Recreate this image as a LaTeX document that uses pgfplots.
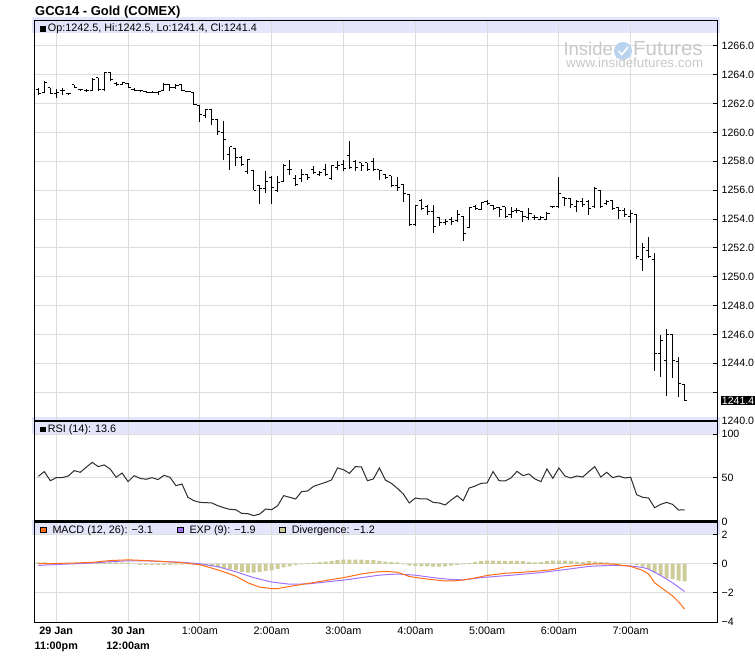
\documentclass[border=0pt]{standalone}
\usepackage{fontspec}
\setmainfont{Liberation Sans}
\usepackage{pgfplots}
\usepackage{pgfplotstable}
\pgfplotsset{compat=1.18}

\definecolor{gridcol}{RGB}{221,221,221}
\definecolor{bandcol}{RGB}{228,228,250}
\definecolor{macdcol}{RGB}{255,110,20}
\definecolor{expcol}{RGB}{160,115,255}
\definecolor{divcol}{RGB}{204,204,153}
\definecolor{rsicol}{RGB}{45,45,45}
\definecolor{wmgray}{RGB}{200,200,200}
\definecolor{globecol}{RGB}{185,212,238}

\pgfdeclareplotmark{otick}{\pgfpathmoveto{\pgfqpoint{-2.6pt}{0pt}}\pgfpathlineto{\pgfqpoint{0pt}{0pt}}\pgfusepathqstroke}
\pgfdeclareplotmark{ctick}{\pgfpathmoveto{\pgfqpoint{0pt}{0pt}}\pgfpathlineto{\pgfqpoint{2.6pt}{0pt}}\pgfusepathqstroke}

\newcommand\txt{\fontsize{10.8}{14.3}\selectfont}
\newcommand\tck{\fontsize{10.6}{12}\selectfont}

\pgfplotstableread{
i O H L C
0 1263.0 1263.05 1262.6 1262.7
1 1262.75 1263.6 1262.75 1263.5
2 1263.1 1263.1 1262.65 1262.7
3 1262.7 1263.0 1262.4 1262.8
4 1262.9 1263.05 1262.6 1262.9
5 1262.7 1262.75 1262.6 1262.7
6 1263.3 1263.3 1263.05 1263.1
7 1262.95 1263.0 1262.9 1262.95
8 1262.9 1263.0 1262.8 1262.9
9 1262.9 1263.8 1262.9 1263.7
10 1263.8 1263.8 1262.9 1262.95
11 1262.95 1264.2 1262.9 1264.15
12 1264.15 1264.2 1263.6 1263.7
13 1263.4 1263.5 1263.25 1263.35
14 1263.35 1263.5 1263.3 1263.45
15 1263.4 1263.4 1263.05 1263.1
16 1263.0 1263.05 1262.85 1262.9
17 1262.9 1262.95 1262.85 1262.9
18 1262.85 1262.9 1262.8 1262.8
19 1262.8 1262.85 1262.75 1262.8
20 1262.8 1262.9 1262.6 1262.85
21 1262.9 1263.4 1262.9 1263.3
22 1263.3 1263.3 1262.9 1263.1
23 1263.1 1263.35 1263.0 1263.25
24 1263.35 1263.35 1262.85 1262.9
25 1262.85 1262.9 1262.8 1262.85
26 1262.8 1262.8 1261.9 1261.95
27 1261.9 1261.9 1260.7 1261.25
28 1261.2 1261.65 1261.0 1261.6
29 1261.6 1261.65 1260.55 1260.9
30 1260.9 1260.9 1259.8 1260.05
31 1260.0 1260.8 1258.1 1259.5
32 1258.5 1259.0 1257.4 1259.0
33 1258.9 1258.9 1257.7 1258.3
34 1258.3 1258.35 1257.7 1257.8
35 1257.3 1258.15 1257.1 1258.1
36 1257.35 1257.4 1256.0 1256.0
37 1256.3 1256.35 1255.07 1256.1
38 1256.1 1257.3 1255.8 1256.6
39 1256.9 1257.0 1255.05 1256.2
40 1256.0 1256.95 1255.9 1256.55
41 1256.6 1257.8 1256.6 1257.7
42 1257.4 1258.1 1257.05 1257.4
43 1256.8 1257.05 1256.3 1256.4
44 1256.8 1257.5 1256.6 1257.1
45 1257.1 1257.15 1256.7 1256.9
46 1257.4 1257.7 1257.1 1257.2
47 1257.1 1257.3 1257.0 1257.25
48 1257.4 1257.8 1257.0 1257.1
49 1256.8 1257.75 1256.7 1257.7
50 1257.6 1258.05 1257.4 1257.7
51 1257.8 1258.1 1257.35 1257.5
52 1258.4 1259.4 1257.5 1257.6
53 1258.0 1258.1 1257.35 1257.6
54 1257.9 1257.9 1257.35 1257.7
55 1257.9 1257.9 1257.35 1257.4
56 1258.0 1258.2 1257.35 1257.4
57 1257.4 1257.4 1256.7 1257.35
58 1257.1 1257.1 1256.8 1256.9
59 1257.0 1257.0 1256.2 1256.3
60 1256.3 1256.9 1255.95 1256.2
61 1256.4 1256.45 1255.2 1255.8
62 1255.7 1255.75 1253.5 1253.6
63 1253.6 1255.0 1253.5 1254.95
64 1255.3 1255.4 1254.6 1254.75
65 1254.9 1254.95 1254.3 1254.5
66 1254.5 1254.95 1253.0 1253.5
67 1254.1 1254.15 1253.55 1253.75
68 1253.75 1254.0 1253.6 1253.85
69 1254.0 1254.15 1253.6 1253.85
70 1253.9 1254.6 1253.8 1254.3
71 1254.2 1254.2 1252.5 1253.0
72 1253.4 1254.85 1253.4 1254.8
73 1254.9 1255.0 1254.6 1254.75
74 1254.65 1255.2 1254.65 1255.15
75 1255.2 1255.3 1255.0 1255.05
76 1254.95 1254.95 1254.65 1254.7
77 1254.8 1254.85 1254.15 1254.65
78 1254.85 1254.85 1254.1 1254.2
79 1254.3 1254.85 1254.1 1254.5
80 1254.6 1254.8 1254.4 1254.6
81 1254.5 1254.5 1253.8 1254.2
82 1254.1 1254.8 1253.9 1254.4
83 1254.1 1254.3 1253.9 1254.1
84 1254.0 1254.2 1253.9 1254.1
85 1254.0 1254.5 1253.95 1254.4
86 1254.85 1254.9 1254.8 1254.85
87 1254.9 1256.9 1254.8 1255.8
88 1255.5 1255.5 1254.9 1255.4
89 1255.4 1255.4 1254.8 1255.0
90 1254.9 1255.3 1254.5 1255.2
91 1255.2 1255.45 1254.85 1255.0
92 1255.2 1255.3 1254.3 1254.7
93 1254.9 1256.2 1254.8 1256.15
94 1256.0 1256.0 1254.8 1254.9
95 1255.1 1255.3 1255.0 1255.2
96 1255.3 1255.3 1254.6 1254.7
97 1254.8 1254.8 1254.0 1254.6
98 1254.6 1254.8 1254.15 1254.3
99 1254.2 1254.6 1253.7 1254.4
100 1254.3 1254.35 1251.2 1251.4
101 1251.2 1252.37 1250.4 1252.0
102 1251.85 1252.75 1251.3 1251.4
103 1251.2 1251.65 1243.5 1244.65
104 1244.66 1245.98 1243.05 1245.6
105 1244.2 1246.4 1241.7 1246.0
106 1246.0 1246.0 1243.0 1244.2
107 1244.15 1244.45 1241.65 1242.6
108 1242.5 1242.5 1241.4 1241.4
}\ohlc

\pgfplotstableread{
i r
0 51.9
1 57.3
2 46.9
3 50.4
4 50.4
5 52.3
6 58.4
7 56.5
8 62.2
9 67.9
10 63.0
11 64.9
12 60.3
13 50.8
14 55.7
15 45.8
16 52.7
17 49.6
18 48.5
19 50.4
20 48.1
21 53.1
22 50.8
23 41.2
24 43.1
25 27.9
26 24.0
27 22.1
28 21.8
29 21.4
30 18.3
31 16.0
32 14.1
33 13.7
34 9.5
35 9.2
36 6.9
37 8.8
38 14.5
39 13.7
40 18.3
41 29.8
42 27.9
43 26.0
44 34.4
45 35.1
46 40.5
47 42.7
48 45.0
49 47.7
50 61.5
51 59.5
52 55.3
53 63.0
54 62.6
55 46.9
56 48.9
57 61.5
58 47.7
59 43.9
60 38.2
61 31.7
62 21.4
63 27.1
64 26.0
65 26.0
66 22.1
67 21.4
68 19.1
69 24.8
70 29.8
71 24.0
72 38.5
73 40.8
74 43.9
75 44.3
76 57.3
77 46.9
78 46.6
79 50.0
80 57.6
81 52.7
82 54.6
83 48.9
84 45.8
85 60.3
86 49.6
87 61.5
88 52.3
89 50.0
90 52.3
91 51.1
92 57.3
93 63.0
94 51.1
95 56.5
96 50.4
97 52.3
98 50.0
99 50.8
100 30.9
101 27.9
102 27.1
103 16.0
104 19.8
105 22.1
106 19.8
107 13.3
108 13.6
}\rsi

\pgfplotstableread{
i m
0 0.0
3 0.02
6 0.05
9 0.1
12 0.22
15 0.27
18 0.22
21 0.15
24 0.08
27 -0.07
29 -0.3
31 -0.55
33 -0.85
35 -1.3
37 -1.6
39 -1.7
40 -1.7
42 -1.55
45 -1.35
48 -1.15
51 -0.95
54 -0.7
56 -0.58
58 -0.52
60 -0.58
62 -0.87
65 -1.05
68 -1.18
70 -1.16
72 -1.05
75 -0.8
78 -0.65
81 -0.58
84 -0.48
86 -0.4
88 -0.2
91 -0.08
93 0.0
96 -0.02
99 -0.18
101 -0.45
102 -0.7
103 -1.3
104 -1.6
106 -2.2
107 -2.6
108 -3.1
}\macd

\pgfplotstableread{
i e
0 -0.11
3 -0.05
6 0.0
9 0.05
12 0.14
15 0.2
18 0.2
21 0.15
24 0.1
27 0.0
30 -0.2
33 -0.55
36 -0.95
39 -1.25
42 -1.4
45 -1.38
48 -1.25
51 -1.12
54 -0.95
57 -0.78
60 -0.7
63 -0.78
66 -0.95
69 -1.08
71 -1.1
74 -0.95
77 -0.85
80 -0.75
84 -0.6
88 -0.4
92 -0.18
96 -0.1
99 -0.15
101 -0.25
102 -0.37
104 -0.8
106 -1.3
108 -1.9
}\expl

\pgfplotstableread{
i d
0 0.1
1 0.1
2 0.05
3 0.03
4 0.02
5 0.02
6 0.03
7 0.03
8 0.05
9 0.08
10 0.08
11 0.1
12 0.1
13 0.1
14 0.08
15 0.07
16 -0.03
17 -0.08
18 -0.08
19 -0.08
20 -0.08
21 -0.08
22 -0.07
23 -0.06
24 -0.06
25 -0.05
26 -0.05
27 -0.08
28 -0.12
29 -0.18
30 -0.25
31 -0.3
32 -0.38
33 -0.45
34 -0.55
35 -0.6
36 -0.6
37 -0.55
38 -0.5
39 -0.45
40 -0.35
41 -0.25
42 -0.18
43 -0.1
44 -0.05
45 0.05
46 0.08
47 0.12
48 0.15
49 0.2
50 0.25
51 0.28
52 0.28
53 0.28
54 0.28
55 0.25
56 0.25
57 0.2
58 0.15
59 0.12
60 0.1
61 -0.05
62 -0.12
63 -0.15
64 -0.18
65 -0.18
66 -0.2
67 -0.2
68 -0.18
69 -0.12
70 -0.08
71 -0.05
72 0.05
73 0.12
74 0.18
75 0.22
76 0.22
77 0.2
78 0.2
79 0.2
80 0.2
81 0.18
82 0.12
83 0.1
84 0.12
85 0.18
86 0.22
87 0.22
88 0.22
89 0.2
90 0.15
91 0.12
92 0.18
93 0.15
94 0.12
95 0.1
96 0.05
97 0.02
98 0.0
99 -0.02
100 -0.1
101 -0.2
102 -0.35
103 -0.6
104 -0.8
105 -1.0
106 -1.05
107 -1.15
108 -1.2
}\divg

\pgfplotsset{
  panel/.style={
    scale only axis, width=682.7pt,
    xmin=-0.677, xmax=113.43,
    axis line style={line width=1pt, black},
    grid style={line width=1pt, gridcol},
    xmajorgrids, ymajorgrids,
    xtick={3,15,27,39,51,63,75,87,99},
    xtick style={draw=none},
    ytick pos=right, yticklabel pos=right,
    tick align=inside, major tick length=4pt,
    ytick style={line width=1pt, black},
    yticklabel style={anchor=west, inner sep=0pt, xshift=4.5pt, font=\tck},
    set layers,
  },
}

\begin{document}
\begin{tikzpicture}

% ---------- price ----------
\begin{axis}[panel, at={(34.3pt,242pt)}, anchor=south west, height=400pt,
  ymin=1240, ymax=1267.73,
  ytick={1240,1242,1244,1246,1248,1250,1252,1254,1256,1258,1260,1262,1264,1266},
  yticklabels={1240.0,,1244.0,1246.0,1248.0,1250.0,1252.0,1254.0,1256.0,1258.0,1260.0,1262.0,1264.0,1266.0},
  xticklabels={}]
\addplot[on layer=axis background, fill=bandcol, draw=none]
  coordinates {(-1,1266.9) (114,1266.9) (114,1268) (-1,1268)} -- cycle;
\addplot[black, only marks, mark=otick, mark options={line width=1pt, black},
  error bars/.cd, y dir=both, y explicit, error mark=none,
  error bar style={line width=1pt, black}]
  table[x=i, y=O, y error plus expr=\thisrow{H}-\thisrow{O}, y error minus expr=\thisrow{O}-\thisrow{L}] {\ohlc};
\addplot[black, only marks, mark=ctick, mark options={line width=1pt, black}]
  table[x=i, y=C] {\ohlc};
\end{axis}

% ---------- RSI ----------
\begin{axis}[panel, at={(34.3pt,141.3pt)}, anchor=south west, height=100.7pt,
  ymin=0, ymax=115.2,
  ytick={0,50,100}, yticklabels={0,50,100},
  xticklabels={}]
\addplot[on layer=axis background, fill=bandcol, draw=none]
  coordinates {(-1,100) (114,100) (114,120) (-1,120)} -- cycle;
\addplot[rsicol, line width=1pt, mark=none] table[x=i, y=r] {\rsi};
\end{axis}

% ---------- MACD ----------
\begin{axis}[panel, at={(34.3pt,40.8pt)}, anchor=south west, height=100.5pt,
  ymin=-4, ymax=2.88,
  ytick={-4,-2,0,2}, yticklabels={−4,−2,0,2},
  xticklabels={{\textbf{29 Jan}\\\textbf{11:00pm}},{\textbf{30 Jan}\\\textbf{12:00am}},1:00am,2:00am,3:00am,4:00am,5:00am,6:00am,7:00am},
  xticklabel style={align=center, font=\txt, inner sep=0pt, anchor=north, yshift=-5pt}]
\addplot[on layer=axis background, fill=bandcol, draw=none]
  coordinates {(-1,2) (114,2) (114,3) (-1,3)} -- cycle;
\addplot[ybar, bar width=0.67, bar shift=0pt, fill=divcol, draw=none] table[x=i, y=d] {\divg};
\addplot[expcol, line width=1pt, mark=none] table[x=i, y=e] {\expl};
\addplot[macdcol, line width=1pt, mark=none] table[x=i, y=m] {\macd};
\end{axis}

% separators
\draw[line width=2.5pt] (34.3pt,242pt) -- (717pt,242pt);
\draw[line width=2.5pt] (34.3pt,141.3pt) -- (717pt,141.3pt);

% title and headers
\node[anchor=base west, inner sep=0pt, font=\fontsize{13}{15}\selectfont\bfseries] at (35pt,647pt) {GCG14 - Gold (COMEX)};
\fill[black] (40pt,631pt) rectangle (45.8pt,636.8pt);
\node[anchor=base west, inner sep=0pt, font=\txt] at (47.7pt,631pt) {Op:1242.5, Hi:1242.5, Lo:1241.4, Cl:1241.4};
\fill[black] (40pt,230.5pt) rectangle (45.8pt,236.3pt);
\node[anchor=base west, inner sep=0pt, font=\txt] at (47.7pt,230.5pt) {RSI (14): 13.6};
\filldraw[fill=macdcol, draw=black, line width=0.8pt] (40.4pt,130.1pt) rectangle (46.3pt,136pt);
\node[anchor=base west, inner sep=0pt, font=\txt] at (52.3pt,129.7pt) {MACD (12, 26): −3.1};
\filldraw[fill=expcol, draw=black, line width=0.8pt] (177.7pt,130.1pt) rectangle (183.6pt,136pt);
\node[anchor=base west, inner sep=0pt, font=\txt] at (189.3pt,129.7pt) {EXP (9): −1.9};
\filldraw[fill=divcol, draw=black, line width=0.8pt] (279.7pt,130.1pt) rectangle (285.6pt,136pt);
\node[anchor=base west, inner sep=0pt, font=\txt] at (291.7pt,129.7pt) {Divergence: −1.2};

% last price box
\node[anchor=west, fill=black, text=white, inner xsep=1pt, inner ysep=0.8pt, font=\tck] at (720.7pt,262.3pt) {1241.4};

% watermark
\node[anchor=base west, inner sep=0pt, text=wmgray, font=\fontsize{18.5}{20}\selectfont] at (563.3pt,607.6pt) {Inside};
\fill[globecol] (623pt,612pt) circle (9pt);
\draw[white, line width=1.6pt] (618.5pt,612pt) -- (621.8pt,608.5pt) -- (628pt,616pt);
\node[anchor=base west, inner sep=0pt, text=wmgray, font=\fontsize{20.5}{22}\selectfont] at (633pt,607.6pt) {Futures};
\node[anchor=base west, inner sep=0pt, text=wmgray, font=\fontsize{13.4}{15}\selectfont] at (566pt,595.5pt) {www.insidefutures.com};

\pgfresetboundingbox
\path[use as bounding box] (0pt,0pt) rectangle (755pt,663pt);
\end{tikzpicture}
\end{document}
